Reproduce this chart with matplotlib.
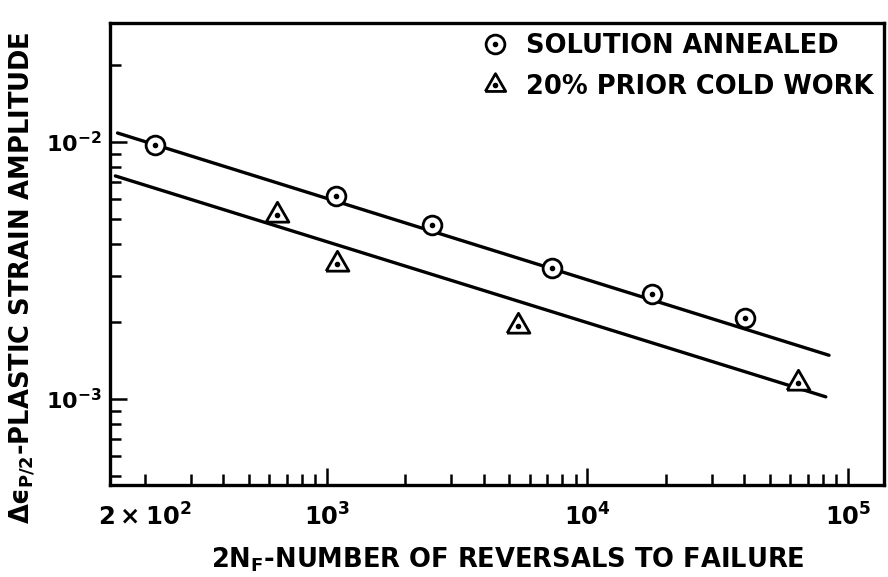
import matplotlib
matplotlib.use("Agg")
import matplotlib.pyplot as plt
import numpy as np
from matplotlib.ticker import FixedLocator, FuncFormatter, NullFormatter
from matplotlib.lines import Line2D

plt.rcParams['font.family'] = ['DejaVu Sans']
plt.rcParams['font.weight'] = 'bold'
plt.rcParams['mathtext.fontset'] = 'dejavusans'

# ---- data ----
sa_reversals = [218, 1083, 2534, 7335, 17620, 40180]
sa_strain = [0.00973, 0.00617, 0.00475, 0.00324, 0.00256, 0.00207]

cw_reversals = [642, 1093, 5428, 64230]
cw_strain = [0.00520, 0.00335, 0.00192, 0.00115]

sa_fit_reversals = [157, 84600]
sa_fit_strain = [0.01084, 0.00148]
cw_fit_reversals = [154, 82200]
cw_fit_strain = [0.00738, 0.00102]

legend_labels = ["SOLUTION ANNEALED", "20% PRIOR COLD WORK"]
x_major_ticks = [1e3, 1e4, 1e5]
x_major_labels = [r"$\mathbf{10^{3}}$", r"$\mathbf{10^{4}}$", r"$\mathbf{10^{5}}$"]
y_major_ticks = [1e-3, 1e-2]
y_major_labels = [r"$\mathbf{10^{-3}}$", r"$\mathbf{10^{-2}}$"]
x_label = r"2N$_{\mathbf{F}}$-NUMBER OF REVERSALS TO FAILURE"
y_label = r"Δϵ$_{\mathbf{P/2}}$-PLASTIC STRAIN AMPLITUDE"

# triangle marker centred on its centroid (dot sits at the centroid)
tri = [(-1.15, -0.67), (1.15, -0.67), (0.0, 1.33), (-1.15, -0.67)]

W, H = 888, 577
fig = plt.figure(figsize=(W / 100, H / 100), dpi=100)
ax = fig.add_axes([110 / W, 1 - 485 / H, (884 - 110) / W, (485 - 23) / H])

ax.set_xscale('log')
ax.set_yscale('log')
ax.set_xlim(146.9, 137500)
ax.set_ylim(4.63e-4, 0.02904)

lw = 2.4
ax.plot(sa_fit_reversals, sa_fit_strain, color='black', lw=lw, zorder=2,
        solid_capstyle='round')
ax.plot(cw_fit_reversals, cw_fit_strain, color='black', lw=lw, zorder=2,
        solid_capstyle='round')

ax.plot(sa_reversals, sa_strain, linestyle='none', marker='o', markersize=13.5,
        markerfacecolor='white', markeredgecolor='black', markeredgewidth=2.0, zorder=3)
ax.plot(sa_reversals, sa_strain, linestyle='none', marker='o', markersize=3.0,
        color='black', zorder=4)
ax.plot(cw_reversals, cw_strain, linestyle='none', marker=tri, markersize=19,
        markerfacecolor='white', markeredgecolor='black', markeredgewidth=2.0, zorder=3)
ax.plot(cw_reversals, cw_strain, linestyle='none', marker='o', markersize=3.0,
        color='black', zorder=4)

# ticks
ax.xaxis.set_major_locator(FixedLocator(x_major_ticks))
ax.xaxis.set_major_formatter(FuncFormatter(lambda v, p: x_major_labels[x_major_ticks.index(v)] if v in x_major_ticks else ""))
x_minor = [m * 10 ** d for d in range(2, 6) for m in range(2, 10)]
ax.xaxis.set_minor_locator(FixedLocator(x_minor))
ax.xaxis.set_minor_formatter(FuncFormatter(lambda v, p: r"$\mathbf{2\times10^{2}}$" if abs(v - 200) < 1 else ""))

ax.yaxis.set_major_locator(FixedLocator(y_major_ticks))
ax.yaxis.set_major_formatter(FuncFormatter(lambda v, p: y_major_labels[y_major_ticks.index(v)] if v in y_major_ticks else ""))
y_minor = [m * 10 ** d for d in range(-4, -1) for m in range(2, 10)]
ax.yaxis.set_minor_locator(FixedLocator(y_minor))
ax.yaxis.set_minor_formatter(NullFormatter())

ax.tick_params(which='major', direction='in', length=12, width=1.8, labelsize=17.5, pad=9)
ax.tick_params(which='minor', direction='in', length=8, width=1.8, labelsize=17.5, pad=9)
ax.tick_params(axis='x', which='both', pad=13)
ax.tick_params(axis='y', which='both', labelsize=16, pad=6)
ax.tick_params(top=False, right=False, which='both')

for s in ax.spines.values():
    s.set_linewidth(2.4)

ax.set_xlabel(x_label, fontsize=18.5, fontweight='bold')
ax.set_ylabel(y_label, fontsize=18.5, fontweight='bold')
ax.xaxis.set_label_coords((508 - 110) / (884 - 110), -(545 - 485) / (485 - 23))
ax.yaxis.set_label_coords(-(110 - 38) / (884 - 110), (485 - 278) / (485 - 23))

h1 = (Line2D([], [], linestyle='none', marker='o', markersize=13.5, markerfacecolor='white',
             markeredgecolor='black', markeredgewidth=2.0),
      Line2D([], [], linestyle='none', marker='o', markersize=3.0, color='black'))
h2 = (Line2D([], [], linestyle='none', marker=tri, markersize=17, markerfacecolor='white',
             markeredgecolor='black', markeredgewidth=2.0),
      Line2D([], [], linestyle='none', marker='o', markersize=3.0, color='black'))
ax.legend([h1, h2], legend_labels, loc='upper right', bbox_to_anchor=(1.01, 1.018),
          frameon=False, handlelength=1.0, handletextpad=0.7, labelspacing=0.6,
          borderaxespad=0.3, prop={'weight': 'bold', 'size': 18.5})

fig.savefig("out.png", dpi=100)
